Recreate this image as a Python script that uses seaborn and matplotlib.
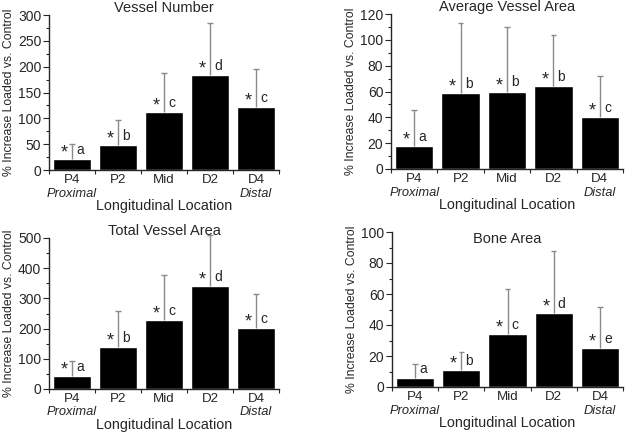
import numpy as np
import pandas as pd
import matplotlib
matplotlib.use("Agg")
import matplotlib.pyplot as plt
from matplotlib.ticker import MultipleLocator, FixedLocator
import seaborn as sns

# DATA
locations = ["P4", "P2", "Mid", "D2", "D4"]

vessel_number_mean = [22, 49, 112, 184, 121]
vessel_number_sd = [28, 48, 75, 100, 74]
vessel_number_letters = ["a", "b", "c", "d", "c"]
vessel_number_star = [True, True, True, True, True]

avg_area_mean = [18, 58.5, 60, 64, 40]
avg_area_sd = [28, 54.5, 50, 40, 32]
avg_area_letters = ["a", "b", "b", "b", "c"]
avg_area_star = [True, True, True, True, True]

total_area_mean = [43, 140, 228, 342, 203]
total_area_sd = [51, 118, 150, 167, 111]
total_area_letters = ["a", "b", "c", "d", "c"]
total_area_star = [True, True, True, True, True]

bone_area_mean = [6, 11, 34, 48, 25]
bone_area_sd = [9, 11.5, 29.5, 39.5, 26.5]
bone_area_letters = ["a", "b", "c", "d", "e"]
bone_area_star = [False, True, True, True, True]

sns.set_style("ticks")
plt.rcParams["font.family"] = ["Liberation Sans", "DejaVu Sans"]
plt.rcParams["axes.linewidth"] = 1.0

fig = plt.figure(figsize=(6.29, 4.33), dpi=100)
W, H = 629, 433


def make_axes(left, right, top, bottom):
    return fig.add_axes([left / W, 1 - bottom / H, (right - left) / W, (bottom - top) / H])


def panel(ax, means, sds, letters, stars, title, ymax, major, minor, title_inside=False):
    df = pd.DataFrame({"loc": locations, "val": means})
    sns.barplot(data=df, x="loc", y="val", color="black", saturation=1,
                width=0.83, errorbar=None, ax=ax)
    # upper-only error bars, gray
    xs = np.arange(5)
    tops = np.array(means) + np.array(sds)
    ax.vlines(xs, means, tops, color="#8a8a8a", lw=1, clip_on=False, zorder=3)
    ax.hlines(tops, xs - 0.06, xs + 0.06, color="#8a8a8a", lw=1, clip_on=False, zorder=3)
    for i in range(5):
        top = means[i]
        if stars[i]:
            ax.annotate("*", (i - 0.17, top), xytext=(0, -1.8), textcoords="offset points",
                        ha="center", va="bottom", fontsize=13)
        ax.annotate(letters[i], (i + 0.17, top), xytext=(0, 1.5), textcoords="offset points",
                    ha="center", va="bottom", fontsize=10)
    ax.set_xlim(-0.5, 4.5)
    ax.set_ylim(0, ymax)
    ax.yaxis.set_major_locator(MultipleLocator(major))
    ax.yaxis.set_minor_locator(MultipleLocator(minor))
    ax.xaxis.set_minor_locator(FixedLocator(np.arange(-0.5, 5, 1)))
    ax.tick_params(axis="x", which="major", length=0, labelsize=9.6, pad=3)
    ax.tick_params(axis="x", which="minor", length=3, width=0.8)
    ax.tick_params(axis="y", which="major", length=4, width=0.8, labelsize=10, pad=1.5)
    ax.tick_params(axis="y", which="minor", length=2.5, width=0.8)
    sns.despine(ax=ax)
    ax.set_xlabel("Longitudinal Location", fontsize=10.4, labelpad=9)
    ax.set_ylabel("% Increase Loaded vs. Control", fontsize=8.8, labelpad=2)
    ax.text(0, -0.155, "Proximal", style="italic", fontsize=9.3, ha="center", va="center",
            transform=ax.get_xaxis_transform())
    ax.text(4, -0.155, "Distal", style="italic", fontsize=9.3, ha="center", va="center",
            transform=ax.get_xaxis_transform())
    if title_inside:
        ax.text(0.5, 0.955, title, fontsize=10.5, ha="center", va="center", transform=ax.transAxes)
    else:
        ax.set_title(title, fontsize=10.5, pad=-0.5)


ax1 = make_axes(49, 279, 15, 170)
panel(ax1, vessel_number_mean, vessel_number_sd, vessel_number_letters, vessel_number_star,
      "Vessel Number", 300, 50, 25)

ax2 = make_axes(391, 623, 14, 169)
panel(ax2, avg_area_mean, avg_area_sd, avg_area_letters, avg_area_star,
      "Average Vessel Area", 120, 20, 10)

ax3 = make_axes(49, 279, 238, 389)
panel(ax3, total_area_mean, total_area_sd, total_area_letters, total_area_star,
      "Total Vessel Area", 500, 100, 50)

ax4 = make_axes(392, 623, 232, 387)
panel(ax4, bone_area_mean, bone_area_sd, bone_area_letters, bone_area_star,
      "Bone Area", 100, 20, 10, title_inside=True)

fig.savefig("out.png", dpi=100, facecolor="white")
